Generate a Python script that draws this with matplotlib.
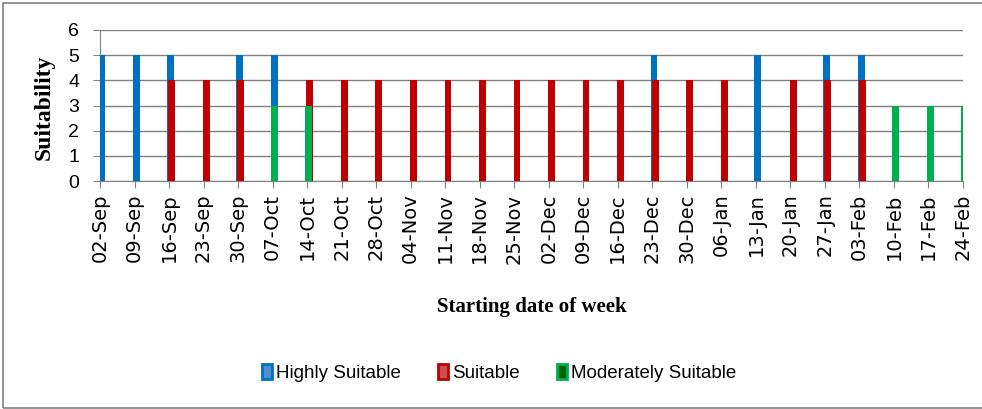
import matplotlib.pyplot as plt
from matplotlib.patches import Rectangle, Patch

# weeks on the x axis
weeks = ['02-Sep', '09-Sep', '16-Sep', '23-Sep', '30-Sep', '07-Oct', '14-Oct',
         '21-Oct', '28-Oct', '04-Nov', '11-Nov', '18-Nov', '25-Nov', '02-Dec',
         '09-Dec', '16-Dec', '23-Dec', '30-Dec', '06-Jan', '13-Jan', '20-Jan',
         '27-Jan', '03-Feb', '10-Feb', '17-Feb', '24-Feb']

# suitability scores (0 = not in that class)
highly = [5, 5, 5, 0, 5, 5, 0, 0, 0, 0, 0, 0, 0, 0, 0, 0, 5, 0, 0, 5, 0, 5, 5, 0, 0, 0]
suitable = [0, 0, 4, 4, 4, 0, 4, 4, 4, 4, 4, 4, 4, 4, 4, 4, 4, 4, 4, 0, 4, 4, 4, 0, 0, 0]
moderate = [0, 0, 0, 0, 0, 3, 3, 0, 0, 0, 0, 0, 0, 0, 0, 0, 0, 0, 0, 0, 0, 0, 0, 3, 3, 3]

series = ['Highly Suitable', 'Suitable', 'Moderately Suitable']
colors = ['#0070C0', '#C00000', '#00B050']
inner = ['#4F8FD0', '#C85050', '#006400']

sans = ['Liberation Sans', 'DejaVu Sans']
serif = ['Liberation Serif', 'DejaVu Serif']

fig = plt.figure(figsize=(9.82, 4.09), dpi=100)
ax = fig.add_axes([100 / 982, 1 - 181 / 409, 863 / 982, 151 / 409])

x = range(len(weeks))
w = 0.2
for i, (vals, c) in enumerate(zip([highly, suitable, moderate], colors)):
    ax.bar([k + 0.05 + 0.03 * (i == 1) for k in x], vals, width=w, color=c,
           zorder=3 + i, linewidth=0)

ax.set_xlim(0, 25)
ax.set_ylim(0, 6)
ax.set_yticks(range(7))
ax.set_xticks(list(x))
ax.set_xticklabels(weeks, rotation=90, fontsize=14, family=['DejaVu Sans'])
for t in ax.get_yticklabels():
    t.set_family(sans)
    t.set_fontsize(14)

ax.grid(axis='y', color='#808080', linewidth=1, zorder=0)
for s in ['top', 'right']:
    ax.spines[s].set_visible(False)
for s in ['left', 'bottom']:
    ax.spines[s].set_color('#808080')
ax.tick_params(axis='both', colors='#808080', length=5, labelcolor='black')
ax.tick_params(axis='x', pad=4)
ax.tick_params(axis='y', pad=10)

fig.text(44 / 982, 1 - 107 / 409, 'Suitability', fontsize=17, fontweight='bold',
         family=serif, rotation=90, ha='center', va='center')
fig.text(532 / 982, 1 - 307 / 409, 'Starting date of week', fontsize=15,
         fontweight='bold', family=serif, ha='center', va='center')

handles = [Patch(facecolor=inn, edgecolor=c, linewidth=2) for c, inn in zip(colors, inner)]
fig.legend(handles, series, loc='center', bbox_to_anchor=(499 / 982, 1 - 373 / 409),
           ncol=3, frameon=False, prop={'family': sans, 'size': 13.5},
           handlelength=0.55, handleheight=0.9, handletextpad=0.2, columnspacing=2.0)

# outer chart border
fig.patches.append(Rectangle((3 / 982, 1 / 409), 1.0, 405 / 409, transform=fig.transFigure,
                             fill=False, edgecolor='#808080', linewidth=1.2))

fig.savefig('out.png', dpi=100)
